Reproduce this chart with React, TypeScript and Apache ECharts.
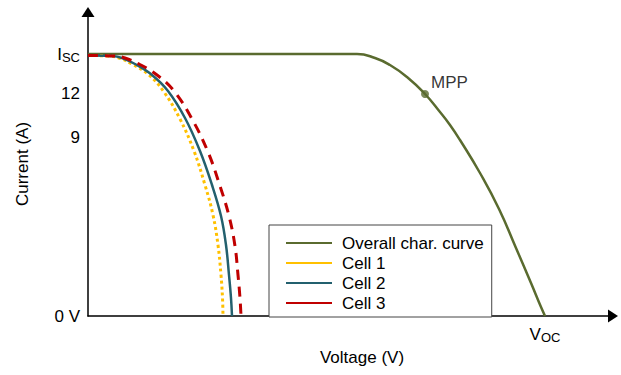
import React, { useEffect, useRef } from "react";
import * as echarts from "echarts";

// Positions on the axes are in arbitrary units (schematic chart)
const overallX = [0, 255, 269, 287, 302, 319, 337, 352, 362, 372, 392, 411, 428, 443, 453, 457];
const overallY = [262, 262, 262, 258, 251, 239, 222, 204, 191, 176, 143, 107, 68, 33, 9, 0];

const cell1X = [0, 20, 31, 44, 61, 76, 92, 106, 117, 125, 130, 133, 134.5, 135];
const cell1Y = [260.5, 260, 258, 252, 241, 224, 197, 165, 131, 101, 71, 41, 18, 0];

const cell2X = [0, 24, 34, 47, 64, 80, 97, 112, 124, 133, 138, 141, 143, 144];
const cell2Y = [260.5, 260, 258, 252, 241, 225, 198, 165, 131, 100, 71, 41, 18, 0];

const cell3X = [0, 26, 37, 51, 69, 86, 104, 120, 132, 141, 147, 150, 152, 153];
const cell3Y = [260.5, 260, 258, 252, 241, 225, 197, 164, 130, 100, 70, 41, 18, 0];

const mppPoint = [337, 222];

const yTickValues = [0, 179, 223, 262];
const yTickLabels = ["0 V", "9", "12", "{main|I}{sub|SC}"];
const xTickValues = [457];
const xTickLabels = ["{main|V}{sub|OC}"];

const seriesNames = ["Overall char. curve", "Cell 1", "Cell 2", "Cell 3"];

const zip = (xs: number[], ys: number[]) => xs.map((x, i) => [x, ys[i]]);

const FONT = "Liberation Sans, Arial, sans-serif";
const FS = 17;
const rich = {
  main: { fontSize: FS, fontFamily: FONT, color: "#000" },
  sub: { fontSize: 13, fontFamily: FONT, color: "#000", padding: [7, 0, 0, 0] },
};

export default function App() {
  const ref = useRef<HTMLDivElement>(null);
  useEffect(() => {
    if (!ref.current) return;
    const chart = echarts.init(ref.current, undefined, { renderer: "svg" });
    chart.setOption({
      animation: false,
      backgroundColor: "#fff",
      textStyle: { fontFamily: FONT },
      grid: { left: 88, right: 8, top: 12, bottom: 59, containLabel: false },
      legend: {
        data: seriesNames,
        orient: "vertical",
        left: 269,
        top: 225,
        padding: [8, 8, 4, 17],
        itemWidth: 46,
        itemHeight: 20,
        itemGap: 0,
        backgroundColor: "#fff",
        borderColor: "#444",
        borderWidth: 1,
        borderRadius: 0,
        icon: "path://M0,6L46,6L46,8L0,8Z",
        textStyle: {
          fontSize: FS,
          lineHeight: 20,
          color: "#000",
          fontFamily: FONT,
          padding: [0, 0, 0, 5],
        },
      },
      xAxis: {
        type: "value",
        min: 0,
        max: 525,
        name: "Voltage (V)",
        nameLocation: "middle",
        nameGap: 29,
        nameTextStyle: { fontSize: FS, color: "#000", fontFamily: FONT, padding: [0, 0, 0, 23] },
        axisLine: {
          show: true,
          onZero: false,
          symbol: ["none", "triangle"],
          symbolSize: [13, 10],
          lineStyle: { color: "#000", width: 1.5 },
        },
        axisTick: { show: false },
        splitLine: { show: false },
        axisLabel: {
          customValues: xTickValues,
          margin: 8,
          formatter: (v: number) => xTickLabels[xTickValues.indexOf(v)] ?? "",
          rich,
        },
      },
      yAxis: {
        type: "value",
        min: 0,
        max: 304,
        name: "Current (A)",
        nameLocation: "middle",
        nameGap: 57,
        nameTextStyle: { fontSize: FS, color: "#000", fontFamily: FONT },
        axisLine: {
          show: true,
          onZero: false,
          symbol: ["none", "triangle"],
          symbolSize: [13, 10],
          lineStyle: { color: "#000", width: 1.5 },
        },
        axisTick: { show: false },
        splitLine: { show: false },
        axisLabel: {
          customValues: yTickValues,
          margin: 8,
          formatter: (v: number) => {
            const i = yTickValues.indexOf(v);
            const s = i >= 0 ? yTickLabels[i] : "";
            return s.startsWith("{") ? s : `{main|${s}}`;
          },
          rich,
        },
      },
      series: [
        {
          name: seriesNames[0],
          type: "line",
          data: zip(overallX, overallY),
          smooth: 0.5,
          symbol: "none",
          color: "#5a6b2f",
          lineStyle: { color: "#5a6b2f", width: 2.5 },
          z: 2,
        },
        {
          name: seriesNames[1],
          type: "line",
          data: zip(cell1X, cell1Y),
          smooth: 0.4,
          symbol: "none",
          color: "#ffc000",
          lineStyle: { color: "#ffc000", width: 3, type: [3, 3] },
          z: 3,
        },
        {
          name: seriesNames[2],
          type: "line",
          data: zip(cell2X, cell2Y),
          smooth: 0.4,
          symbol: "none",
          color: "#23606e",
          lineStyle: { color: "#23606e", width: 2.5 },
          z: 4,
        },
        {
          name: seriesNames[3],
          type: "line",
          data: zip(cell3X, cell3Y),
          smooth: 0.4,
          symbol: "none",
          color: "#c00000",
          lineStyle: { color: "#c00000", width: 3, type: [10, 7] },
          z: 5,
        },
        {
          name: "MPP",
          type: "scatter",
          data: [mppPoint],
          symbol: "circle",
          symbolSize: 8,
          itemStyle: { color: "#5a6b2f" },
          label: {
            show: true,
            formatter: "MPP",
            position: "right",
            distance: 2,
            offset: [0, -12],
            fontSize: FS,
            color: "#000",
            fontFamily: FONT,
          },
          z: 6,
        },
      ],
    });
    return () => chart.dispose();
  }, []);
  return (
    <div
      ref={ref}
      style={{ position: "absolute", left: 0, top: 0, width: 621, height: 375 }}
    />
  );
}
